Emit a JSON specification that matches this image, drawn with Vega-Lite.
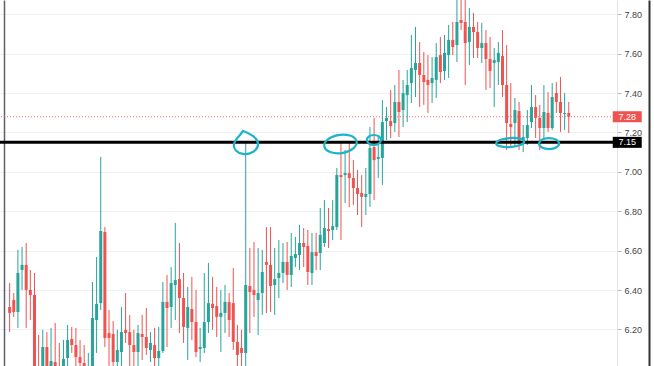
{
"$schema": "https://vega.github.io/schema/vega-lite/v6.json",
"width": 617, "height": 366,
"autosize": {"type": "none"},
"padding": {"left": 0, "top": 0, "right": 37, "bottom": 0},
"background": "white",
"config": {"view": {"stroke": null}, "axis": {"labelFont": "Liberation Sans"}},
"datasets": {
"candles": [
{"t":1,"o":6.314,"h":6.436,"l":6.187,"c":6.284},
{"t":2,"o":6.350,"h":6.385,"l":6.264,"c":6.289},
{"t":3,"o":6.289,"h":6.604,"l":6.208,"c":6.487},
{"t":4,"o":6.502,"h":6.619,"l":6.401,"c":6.528},
{"t":5,"o":6.528,"h":6.639,"l":6.208,"c":6.401},
{"t":6,"o":6.401,"h":6.502,"l":6.248,"c":6.375},
{"t":7,"o":6.375,"h":6.487,"l":5.893,"c":5.944},
{"t":8,"o":5.995,"h":6.172,"l":5.868,"c":5.893},
{"t":9,"o":5.969,"h":6.198,"l":5.944,"c":6.111},
{"t":10,"o":6.111,"h":6.187,"l":5.944,"c":5.984},
{"t":11,"o":5.984,"h":6.208,"l":5.944,"c":6.040},
{"t":12,"o":6.035,"h":6.233,"l":5.969,"c":6.005},
{"t":13,"o":5.995,"h":6.132,"l":5.918,"c":5.969},
{"t":14,"o":5.984,"h":6.147,"l":5.944,"c":6.050},
{"t":15,"o":6.055,"h":6.223,"l":5.995,"c":6.147},
{"t":16,"o":6.152,"h":6.213,"l":6.081,"c":6.121},
{"t":17,"o":6.121,"h":6.208,"l":5.995,"c":6.060},
{"t":18,"o":6.060,"h":6.147,"l":5.969,"c":6.030},
{"t":19,"o":6.030,"h":6.121,"l":5.944,"c":5.984},
{"t":20,"o":5.944,"h":6.081,"l":5.893,"c":5.995},
{"t":21,"o":5.969,"h":6.441,"l":5.944,"c":6.258},
{"t":22,"o":6.248,"h":6.568,"l":6.081,"c":6.330},
{"t":23,"o":6.334,"h":7.076,"l":6.299,"c":6.700},
{"t":24,"o":6.695,"h":6.720,"l":6.111,"c":6.157},
{"t":25,"o":6.182,"h":6.299,"l":5.995,"c":6.157},
{"t":26,"o":6.177,"h":6.243,"l":5.969,"c":6.035},
{"t":27,"o":6.035,"h":6.198,"l":5.995,"c":6.096},
{"t":28,"o":6.086,"h":6.314,"l":5.995,"c":6.187},
{"t":29,"o":6.198,"h":6.385,"l":6.132,"c":6.182},
{"t":30,"o":6.187,"h":6.274,"l":5.995,"c":6.121},
{"t":31,"o":6.121,"h":6.198,"l":6.005,"c":6.086},
{"t":32,"o":6.086,"h":6.223,"l":5.995,"c":6.182},
{"t":33,"o":6.177,"h":6.274,"l":6.045,"c":6.162},
{"t":34,"o":6.162,"h":6.309,"l":6.071,"c":6.106},
{"t":35,"o":6.096,"h":6.187,"l":6.035,"c":6.132},
{"t":36,"o":6.121,"h":6.208,"l":5.995,"c":6.055},
{"t":37,"o":6.055,"h":6.213,"l":5.995,"c":6.091},
{"t":38,"o":6.091,"h":6.441,"l":6.081,"c":6.340},
{"t":39,"o":6.340,"h":6.477,"l":6.111,"c":6.309},
{"t":40,"o":6.314,"h":6.517,"l":6.208,"c":6.436},
{"t":41,"o":6.426,"h":6.741,"l":6.248,"c":6.451},
{"t":42,"o":6.456,"h":6.639,"l":6.182,"c":6.360},
{"t":43,"o":6.360,"h":6.487,"l":6.132,"c":6.213},
{"t":44,"o":6.208,"h":6.416,"l":6.045,"c":6.314},
{"t":45,"o":6.304,"h":6.467,"l":6.147,"c":6.238},
{"t":46,"o":6.238,"h":6.401,"l":6.060,"c":6.086},
{"t":47,"o":6.101,"h":6.208,"l":6.035,"c":6.111},
{"t":48,"o":6.106,"h":6.487,"l":6.081,"c":6.238},
{"t":49,"o":6.238,"h":6.538,"l":6.182,"c":6.334},
{"t":50,"o":6.330,"h":6.467,"l":6.198,"c":6.309},
{"t":51,"o":6.319,"h":6.416,"l":6.162,"c":6.264},
{"t":52,"o":6.264,"h":6.401,"l":6.086,"c":6.284},
{"t":53,"o":6.284,"h":6.426,"l":6.182,"c":6.340},
{"t":54,"o":6.340,"h":6.385,"l":6.162,"c":6.248},
{"t":55,"o":6.334,"h":6.512,"l":6.096,"c":6.137},
{"t":56,"o":6.137,"h":6.223,"l":6.005,"c":6.071},
{"t":57,"o":6.106,"h":6.198,"l":5.995,"c":6.081},
{"t":58,"o":6.081,"h":7.152,"l":6.010,"c":6.426},
{"t":59,"o":6.421,"h":6.614,"l":6.182,"c":6.390},
{"t":60,"o":6.401,"h":6.644,"l":6.264,"c":6.375},
{"t":61,"o":6.350,"h":6.614,"l":6.172,"c":6.385},
{"t":62,"o":6.385,"h":6.604,"l":6.274,"c":6.492},
{"t":63,"o":6.543,"h":6.720,"l":6.284,"c":6.528},
{"t":64,"o":6.528,"h":6.720,"l":6.289,"c":6.421},
{"t":65,"o":6.426,"h":6.614,"l":6.274,"c":6.456},
{"t":66,"o":6.461,"h":6.654,"l":6.360,"c":6.487},
{"t":67,"o":6.487,"h":6.639,"l":6.436,"c":6.543},
{"t":68,"o":6.543,"h":6.644,"l":6.401,"c":6.477},
{"t":69,"o":6.477,"h":6.690,"l":6.416,"c":6.573},
{"t":70,"o":6.563,"h":6.670,"l":6.517,"c":6.583},
{"t":71,"o":6.578,"h":6.731,"l":6.502,"c":6.639},
{"t":72,"o":6.639,"h":6.715,"l":6.517,"c":6.619},
{"t":73,"o":6.624,"h":6.705,"l":6.426,"c":6.492},
{"t":74,"o":6.487,"h":6.690,"l":6.426,"c":6.593},
{"t":75,"o":6.593,"h":6.690,"l":6.502,"c":6.573},
{"t":76,"o":6.588,"h":6.817,"l":6.502,"c":6.680},
{"t":77,"o":6.639,"h":6.857,"l":6.619,"c":6.715},
{"t":78,"o":6.710,"h":6.817,"l":6.614,"c":6.700},
{"t":79,"o":6.705,"h":6.857,"l":6.654,"c":6.725},
{"t":80,"o":6.720,"h":7.020,"l":6.705,"c":6.984},
{"t":81,"o":6.984,"h":7.152,"l":6.654,"c":6.974},
{"t":82,"o":6.984,"h":7.111,"l":6.842,"c":6.994},
{"t":83,"o":6.994,"h":7.152,"l":6.822,"c":6.969},
{"t":84,"o":6.969,"h":7.060,"l":6.832,"c":6.918},
{"t":85,"o":6.918,"h":7.010,"l":6.781,"c":6.888},
{"t":86,"o":6.893,"h":6.984,"l":6.720,"c":6.873},
{"t":87,"o":6.873,"h":7.020,"l":6.781,"c":6.888},
{"t":88,"o":6.888,"h":7.228,"l":6.822,"c":7.121},
{"t":89,"o":7.126,"h":7.274,"l":6.857,"c":7.060},
{"t":90,"o":7.066,"h":7.177,"l":6.969,"c":7.076},
{"t":91,"o":7.071,"h":7.365,"l":6.934,"c":7.253},
{"t":92,"o":7.258,"h":7.329,"l":7.162,"c":7.274},
{"t":93,"o":7.258,"h":7.416,"l":7.172,"c":7.233},
{"t":94,"o":7.248,"h":7.441,"l":7.203,"c":7.355},
{"t":95,"o":7.355,"h":7.517,"l":7.177,"c":7.304},
{"t":96,"o":7.314,"h":7.467,"l":7.228,"c":7.400},
{"t":97,"o":7.390,"h":7.517,"l":7.253,"c":7.441},
{"t":98,"o":7.451,"h":7.695,"l":7.350,"c":7.527},
{"t":99,"o":7.517,"h":7.736,"l":7.380,"c":7.553},
{"t":100,"o":7.553,"h":7.659,"l":7.329,"c":7.492},
{"t":101,"o":7.492,"h":7.609,"l":7.340,"c":7.456},
{"t":102,"o":7.467,"h":7.593,"l":7.299,"c":7.441},
{"t":103,"o":7.451,"h":7.583,"l":7.350,"c":7.477},
{"t":104,"o":7.467,"h":7.654,"l":7.375,"c":7.583},
{"t":105,"o":7.593,"h":7.685,"l":7.451,"c":7.507},
{"t":106,"o":7.512,"h":7.695,"l":7.467,"c":7.604},
{"t":107,"o":7.593,"h":7.746,"l":7.477,"c":7.670},
{"t":108,"o":7.670,"h":7.761,"l":7.593,"c":7.634},
{"t":109,"o":7.644,"h":7.880,"l":7.558,"c":7.761},
{"t":110,"o":7.771,"h":7.880,"l":7.720,"c":7.756},
{"t":111,"o":7.761,"h":7.880,"l":7.441,"c":7.654},
{"t":112,"o":7.659,"h":7.832,"l":7.543,"c":7.736},
{"t":113,"o":7.736,"h":7.807,"l":7.578,"c":7.710},
{"t":114,"o":7.710,"h":7.761,"l":7.578,"c":7.629},
{"t":115,"o":7.629,"h":7.756,"l":7.553,"c":7.654},
{"t":116,"o":7.654,"h":7.720,"l":7.416,"c":7.573},
{"t":117,"o":7.573,"h":7.685,"l":7.426,"c":7.512},
{"t":118,"o":7.553,"h":7.629,"l":7.329,"c":7.568},
{"t":119,"o":7.558,"h":7.659,"l":7.441,"c":7.604},
{"t":120,"o":7.588,"h":7.720,"l":7.380,"c":7.441},
{"t":121,"o":7.441,"h":7.644,"l":7.111,"c":7.248},
{"t":122,"o":7.243,"h":7.451,"l":7.126,"c":7.228},
{"t":123,"o":7.248,"h":7.375,"l":7.126,"c":7.314},
{"t":124,"o":7.309,"h":7.355,"l":7.111,"c":7.142},
{"t":125,"o":7.162,"h":7.238,"l":7.101,"c":7.177},
{"t":126,"o":7.172,"h":7.314,"l":7.136,"c":7.238},
{"t":127,"o":7.253,"h":7.441,"l":7.223,"c":7.329},
{"t":128,"o":7.329,"h":7.390,"l":7.172,"c":7.274},
{"t":129,"o":7.274,"h":7.340,"l":7.111,"c":7.223},
{"t":130,"o":7.223,"h":7.441,"l":7.162,"c":7.304},
{"t":131,"o":7.299,"h":7.405,"l":7.203,"c":7.223},
{"t":132,"o":7.223,"h":7.451,"l":7.213,"c":7.380},
{"t":133,"o":7.400,"h":7.456,"l":7.299,"c":7.355},
{"t":134,"o":7.355,"h":7.482,"l":7.203,"c":7.299},
{"t":135,"o":7.294,"h":7.400,"l":7.213,"c":7.299},
{"t":136,"o":7.299,"h":7.355,"l":7.197,"c":7.280}
],
"lastprice": [{"price": 7.28, "label": "7.28", "kind": "last"}],
"level": [{"price": 7.15, "label": "7.15", "kind": "level"}],
"tags": [{"price": 7.28, "label": "7.28", "kind": "last"}, {"price": 7.15, "label": "7.15", "kind": "level"}],
"circles": [
{"t": 58.08, "price": 7.142, "id": "a"},
{"t": 80.88, "price": 7.142, "id": "b"},
{"t": 88.96, "price": 7.162, "id": "c"},
{"t": 121.85, "price": 7.149, "id": "d"},
{"t": 131.24, "price": 7.144, "id": "e"}
]
},
"resolve": {"axis": {"y": "independent"}},
"layer": [
{
"data": {"name": "candles"},
"mark": {"type": "rule", "clip": true, "strokeWidth": 1},
"encoding": {
"x": {"field": "t", "type": "quantitative", "scale": {"domain": [-0.1164, 146.44], "nice": false, "zero": false},
"axis": {"orient": "bottom", "values": [23.33, 43.19, 66.27, 88.17, 108.98, 130.93, 144.94], "grid": true, "gridColor": "#eef0f3", "labels": false, "ticks": false, "domain": false, "title": null}},
"y": {"field": "l", "type": "quantitative", "scale": {"domain": [6.0147, 7.8726], "nice": false, "zero": false},
"axis": {"orient": "right", "values": [6.2, 6.4, 6.6, 6.8, 7.0, 7.2, 7.4, 7.6, 7.8], "format": ".2f", "grid": true, "gridColor": "#eef0f3", "domainColor": "#e0e3eb", "tickColor": "#b2b5be", "tickSize": 4, "labelPadding": 3, "labelFontSize": 9, "labelColor": "#444444", "title": null}},
"y2": {"field": "h"},
"color": {"condition": {"test": "datum.c >= datum.o", "value": "#26a69a"}, "value": "#ef5350"}
}
},
{
"data": {"name": "candles"},
"mark": {"type": "bar", "clip": true, "width": 3},
"encoding": {
"x": {"field": "t", "type": "quantitative", "axis": null},
"y": {"field": "o", "type": "quantitative", "axis": null},
"y2": {"field": "c"},
"color": {"condition": {"test": "datum.c >= datum.o", "value": "#26a69a"}, "value": "#ef5350"}
}
},
{
"data": {"name": "lastprice"},
"mark": {"type": "rule", "color": "#ef5350", "strokeDash": [1, 2], "strokeWidth": 1, "opacity": 0.85},
"encoding": {"y": {"field": "price", "type": "quantitative", "axis": null}}
},
{
"data": {"name": "level"},
"mark": {"type": "rule", "color": "#000000", "strokeWidth": 3},
"encoding": {"y": {"field": "price", "type": "quantitative",
"axis": {"orient": "left", "offset": -4, "labels": false, "ticks": false, "grid": false, "domain": true, "domainColor": "#5d606b", "domainWidth": 1.5, "title": null}}}
},
{
"data": {"name": "tags"},
"mark": {"type": "point", "filled": true, "opacity": 1, "size": 4, "clip": false, "shape": "M -14.5 -5.5 H 14.5 V 5.5 H -14.5 Z"},
"encoding": {
"x": {"datum": 150.12, "type": "quantitative", "axis": null},
"y": {"field": "price", "type": "quantitative", "axis": null},
"color": {"field": "kind", "type": "nominal", "scale": {"domain": ["last", "level"], "range": ["#ef5350", "#000000"]}, "legend": null}
}
},
{
"data": {"name": "tags"},
"mark": {"type": "text", "color": "white", "fontSize": 9, "font": "Liberation Sans", "align": "center", "baseline": "middle", "clip": false},
"encoding": {
"x": {"datum": 150.12, "type": "quantitative", "axis": null},
"y": {"field": "price", "type": "quantitative",
"axis": {"orient": "right", "offset": 32, "labels": false, "ticks": false, "grid": false, "domain": true, "domainColor": "#333333", "domainWidth": 2, "title": null}},
"text": {"field": "label"}
}
},
{
"data": {"name": "circles"},
"mark": {"type": "point", "filled": false, "size": 4, "stroke": "#1db3c9", "strokeWidth": 2.2, "opacity": 1},
"encoding": {
"x": {"field": "t", "type": "quantitative", "axis": null},
"y": {"field": "price", "type": "quantitative", "axis": null},
"shape": {"field": "id", "type": "nominal", "legend": null, "scale": {"domain": ["a", "b", "c", "d", "e"], "range": [
"M -3 -13 C 3 -11 12 -6 12 0 C 12 7 3 11 -3 10 C -9 9 -13 5 -12 0 C -11 -5 -6 -8 -3 -13 Z",
"M -16 3 A 16 9 -8 1 1 16 -3 A 16 9 -8 1 1 -16 3 Z",
"M -7 0 A 7 5 0 1 1 7 0 A 7 5 0 1 1 -7 0 Z",
"M -14 1 A 14 4.5 -4 1 1 14 -1 A 14 4.5 -4 1 1 -14 1 Z",
"M -10 0 A 10 5.5 0 1 1 10 0 A 10 5.5 0 1 1 -10 0 Z"
]}}
}
}
]
}
